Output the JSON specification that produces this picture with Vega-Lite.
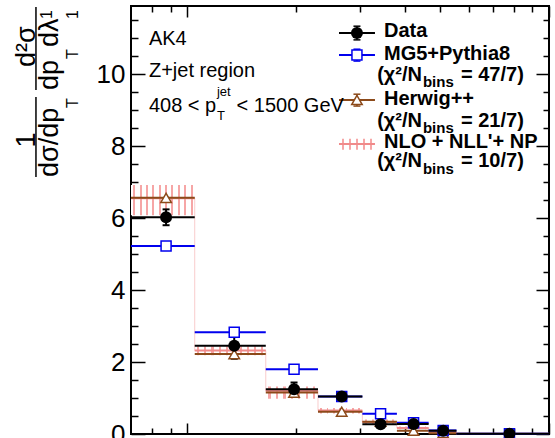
{
"$schema":"https://vega.github.io/schema/vega-lite/v6.json",
"width":418,"height":428,
"autosize":{"type":"none"},
"padding":{"left":131,"top":6,"right":6,"bottom":4},
"background":"white",
"config":{"view":{"stroke":"#000000","strokeWidth":2},"axis":{"grid":false,"domain":false,"labelFont":"Liberation Sans","tickColor":"#000000","labelColor":"#000000"},"text":{"font":"Liberation Sans"}},
"datasets":{
"bins":[
{"bin":1,"lo":0.07,"hi":0.105,"xc":0.0875,"Data":6.02,"dlo":5.8,"dhi":6.24,"MG5":5.22,"Herwig":6.56,"NLO":6.55,"nlo_lo":6.08,"nlo_hi":6.92},
{"bin":2,"lo":0.105,"hi":0.165,"xc":0.135,"Data":2.45,"dlo":2.09,"dhi":2.81,"MG5":2.83,"Herwig":2.22,"NLO":2.32,"nlo_lo":2.19,"nlo_hi":2.44},
{"bin":3,"lo":0.165,"hi":0.23,"xc":0.1975,"Data":1.24,"dlo":1.04,"dhi":1.43,"MG5":1.8,"Herwig":1.15,"NLO":1.2,"nlo_lo":0.98,"nlo_hi":1.32},
{"bin":4,"lo":0.23,"hi":0.305,"xc":0.2675,"Data":1.04,"dlo":0.94,"dhi":1.14,"MG5":1.04,"Herwig":0.62,"NLO":0.65,"nlo_lo":0.57,"nlo_hi":0.72},
{"bin":5,"lo":0.305,"hi":0.38,"xc":0.3425,"Data":0.27,"dlo":0.22,"dhi":0.32,"MG5":0.56,"Herwig":0.34,"NLO":0.33,"nlo_lo":0.26,"nlo_hi":0.4},
{"bin":6,"lo":0.38,"hi":0.465,"xc":0.4225,"Data":0.28,"dlo":0.23,"dhi":0.33,"MG5":0.31,"Herwig":0.09,"NLO":0.17,"nlo_lo":0.13,"nlo_hi":0.21},
{"bin":7,"lo":0.465,"hi":0.555,"xc":0.51,"Data":0.09,"dlo":0.06,"dhi":0.12,"MG5":0.1,"Herwig":0.02,"NLO":0.05,"nlo_lo":0.03,"nlo_hi":0.07},
{"bin":8,"lo":0.555,"hi":1.0,"xc":0.7775,"Data":0.005,"dlo":0.0,"dhi":0.01,"MG5":0.01,"Herwig":0.003,"NLO":0.004,"nlo_lo":0.0,"nlo_hi":0.008}
],
"legsym":[
{"s":"Data","x1":0.2629,"x2":0.3305,"xm":0.2947,"y":11.139,"ylo":10.949,"yhi":11.329},
{"s":"MG5","x1":0.2629,"x2":0.3305,"xm":0.2947,"y":10.528,"ylo":10.36,"yhi":10.69},
{"s":"Herwig","x1":0.2629,"x2":0.3305,"xm":0.2947,"y":9.278,"ylo":9.11,"yhi":9.44},
{"s":"NLO","x1":0.2629,"x2":0.3305,"xm":0.2947,"y":8.056,"ylo":7.9,"yhi":8.2}
],
"legtxt":[
{"x":0.35,"y":11.028,"t":"Data","k":"main"},
{"x":0.35,"y":10.389,"t":"MG5+Pythia8","k":"main"},
{"x":0.4457,"y":9.806,"t":"(χ²/N","k":"pre"},
{"x":0.4485,"y":9.639,"t":"bins","k":"sub"},
{"x":0.5712,"y":9.806,"t":"= 47/7)","k":"main"},
{"x":0.35,"y":9.139,"t":"Herwig++","k":"main"},
{"x":0.4457,"y":8.528,"t":"(χ²/N","k":"pre"},
{"x":0.4485,"y":8.361,"t":"bins","k":"sub"},
{"x":0.5712,"y":8.528,"t":"= 21/7)","k":"main"},
{"x":0.35,"y":7.944,"t":"NLO + NLL'+ NP","k":"main"},
{"x":0.4457,"y":7.417,"t":"(χ²/N","k":"pre"},
{"x":0.4485,"y":7.222,"t":"bins","k":"sub"},
{"x":0.5712,"y":7.417,"t":"= 10/7)","k":"main"}
],
"ann":[
{"x":0.07845,"y":10.81,"t":"AK4","k":"main"},
{"x":0.07845,"y":9.92,"t":"Z+jet region","k":"main"},
{"x":0.07845,"y":8.94,"t":"408 < p","k":"main"},
{"x":0.1209,"y":9.389,"t":"jet","k":"small"},
{"x":0.1209,"y":8.72,"t":"T","k":"small"},
{"x":0.137,"y":8.94,"t":"< 1500 GeV","k":"main"}
],
"ytitle":[
{"x":0.03799,"y":7.958,"t":"1","k":"big"},
{"x":0.04397,"y":7.139,"t":"dσ/dp","k":"big"},
{"x":0.04995,"y":9.056,"t":"T","k":"small"},
{"x":0.03799,"y":10.194,"t":"d²σ","k":"big"},
{"x":0.04397,"y":9.556,"t":"dp","k":"big"},
{"x":0.04995,"y":10.417,"t":"T","k":"small"},
{"x":0.04397,"y":10.75,"t":"dλ","k":"big"},
{"x":0.04233,"y":11.528,"t":"1","k":"small"},
{"x":0.04995,"y":11.528,"t":"1","k":"small"}
],
"bars":[
{"x":0.03824,"y1":7.139,"y2":9.361},
{"x":0.03824,"y1":9.556,"y2":11.861}
]
},
"data":{"name":"bins"},
"resolve":{"axis":{"x":"independent","y":"independent"}},
"layer":[
{"transform":[{"filter":"datum.bin <= 2 || datum.bin == 8"}],
 "mark":{"type":"rect","fill":{"gradient":"linear","x1":0,"x2":1,"y1":0,"y2":0,"stops":[
 {"offset":0,"color":"#ffffff"},
 {"offset":0.035,"color":"#ffffff"},{"offset":0.035,"color":"#f6a6a6"},{"offset":0.065,"color":"#f6a6a6"},{"offset":0.065,"color":"#ffffff"},
 {"offset":0.135,"color":"#ffffff"},{"offset":0.135,"color":"#f6a6a6"},{"offset":0.165,"color":"#f6a6a6"},{"offset":0.165,"color":"#ffffff"},
 {"offset":0.235,"color":"#ffffff"},{"offset":0.235,"color":"#f6a6a6"},{"offset":0.265,"color":"#f6a6a6"},{"offset":0.265,"color":"#ffffff"},
 {"offset":0.335,"color":"#ffffff"},{"offset":0.335,"color":"#f6a6a6"},{"offset":0.365,"color":"#f6a6a6"},{"offset":0.365,"color":"#ffffff"},
 {"offset":0.435,"color":"#ffffff"},{"offset":0.435,"color":"#f6a6a6"},{"offset":0.465,"color":"#f6a6a6"},{"offset":0.465,"color":"#ffffff"},
 {"offset":0.535,"color":"#ffffff"},{"offset":0.535,"color":"#f6a6a6"},{"offset":0.565,"color":"#f6a6a6"},{"offset":0.565,"color":"#ffffff"},
 {"offset":0.635,"color":"#ffffff"},{"offset":0.635,"color":"#f6a6a6"},{"offset":0.665,"color":"#f6a6a6"},{"offset":0.665,"color":"#ffffff"},
 {"offset":0.735,"color":"#ffffff"},{"offset":0.735,"color":"#f6a6a6"},{"offset":0.765,"color":"#f6a6a6"},{"offset":0.765,"color":"#ffffff"},
 {"offset":0.835,"color":"#ffffff"},{"offset":0.835,"color":"#f6a6a6"},{"offset":0.865,"color":"#f6a6a6"},{"offset":0.865,"color":"#ffffff"},
 {"offset":0.935,"color":"#ffffff"},{"offset":0.935,"color":"#f6a6a6"},{"offset":0.965,"color":"#f6a6a6"},{"offset":0.965,"color":"#ffffff"},
 {"offset":1,"color":"#ffffff"}]}},
 "encoding":{"x":{"field":"lo","type":"quantitative","scale":{"type":"log","domain":[0.07,1],"nice":false},"axis":null},"x2":{"field":"hi"},
  "y":{"field":"nlo_lo","type":"quantitative","scale":{"domain":[0,11.89],"nice":false,"zero":false},"axis":null},"y2":{"field":"nlo_hi"}}},
{"transform":[{"filter":"datum.bin == 3 || datum.bin == 4"}],
 "mark":{"type":"rect","fill":{"gradient":"linear","x1":0,"x2":1,"y1":0,"y2":0,"stops":[
 {"offset":0,"color":"#ffffff"},
 {"offset":0.05,"color":"#ffffff"},{"offset":0.05,"color":"#f6a6a6"},{"offset":0.093,"color":"#f6a6a6"},{"offset":0.093,"color":"#ffffff"},
 {"offset":0.193,"color":"#ffffff"},{"offset":0.193,"color":"#f6a6a6"},{"offset":0.236,"color":"#f6a6a6"},{"offset":0.236,"color":"#ffffff"},
 {"offset":0.336,"color":"#ffffff"},{"offset":0.336,"color":"#f6a6a6"},{"offset":0.379,"color":"#f6a6a6"},{"offset":0.379,"color":"#ffffff"},
 {"offset":0.479,"color":"#ffffff"},{"offset":0.479,"color":"#f6a6a6"},{"offset":0.521,"color":"#f6a6a6"},{"offset":0.521,"color":"#ffffff"},
 {"offset":0.621,"color":"#ffffff"},{"offset":0.621,"color":"#f6a6a6"},{"offset":0.664,"color":"#f6a6a6"},{"offset":0.664,"color":"#ffffff"},
 {"offset":0.764,"color":"#ffffff"},{"offset":0.764,"color":"#f6a6a6"},{"offset":0.807,"color":"#f6a6a6"},{"offset":0.807,"color":"#ffffff"},
 {"offset":0.907,"color":"#ffffff"},{"offset":0.907,"color":"#f6a6a6"},{"offset":0.95,"color":"#f6a6a6"},{"offset":0.95,"color":"#ffffff"},
 {"offset":1,"color":"#ffffff"}]}},
 "encoding":{"x":{"field":"lo","type":"quantitative","scale":{"type":"log","domain":[0.07,1],"nice":false},"axis":null},"x2":{"field":"hi"},
  "y":{"field":"nlo_lo","type":"quantitative","scale":{"domain":[0,11.89],"nice":false,"zero":false},"axis":null},"y2":{"field":"nlo_hi"}}},
{"transform":[{"filter":"datum.bin >= 5 && datum.bin <= 7"}],
 "mark":{"type":"rect","fill":{"gradient":"linear","x1":0,"x2":1,"y1":0,"y2":0,"stops":[
 {"offset":0,"color":"#ffffff"},
 {"offset":0.07,"color":"#ffffff"},{"offset":0.07,"color":"#f6a6a6"},{"offset":0.13,"color":"#f6a6a6"},{"offset":0.13,"color":"#ffffff"},
 {"offset":0.27,"color":"#ffffff"},{"offset":0.27,"color":"#f6a6a6"},{"offset":0.33,"color":"#f6a6a6"},{"offset":0.33,"color":"#ffffff"},
 {"offset":0.47,"color":"#ffffff"},{"offset":0.47,"color":"#f6a6a6"},{"offset":0.53,"color":"#f6a6a6"},{"offset":0.53,"color":"#ffffff"},
 {"offset":0.67,"color":"#ffffff"},{"offset":0.67,"color":"#f6a6a6"},{"offset":0.73,"color":"#f6a6a6"},{"offset":0.73,"color":"#ffffff"},
 {"offset":0.87,"color":"#ffffff"},{"offset":0.87,"color":"#f6a6a6"},{"offset":0.93,"color":"#f6a6a6"},{"offset":0.93,"color":"#ffffff"},
 {"offset":1,"color":"#ffffff"}]}},
 "encoding":{"x":{"field":"lo","type":"quantitative","scale":{"type":"log","domain":[0.07,1],"nice":false},"axis":null},"x2":{"field":"hi"},
  "y":{"field":"nlo_lo","type":"quantitative","scale":{"domain":[0,11.89],"nice":false,"zero":false},"axis":null},"y2":{"field":"nlo_hi"}}},
{"mark":{"type":"line","interpolate":"step-after","stroke":"#f9cccc","strokeWidth":1},
 "encoding":{"x":{"field":"lo","type":"quantitative","scale":{"type":"log","domain":[0.07,1],"nice":false},"axis":null},
  "y":{"field":"NLO","type":"quantitative","scale":{"domain":[0,11.89],"nice":false,"zero":false},"axis":null}}},
{"transform":[{"fold":["NLO","Herwig","MG5","Data"],"as":["s","v"]}],
 "mark":{"type":"rule","strokeWidth":2},
 "encoding":{"x":{"field":"lo","type":"quantitative","scale":{"type":"log","domain":[0.07,1],"nice":false},"axis":null},"x2":{"field":"hi"},
  "y":{"field":"v","type":"quantitative","scale":{"domain":[0,11.89],"nice":false,"zero":false},"axis":null},
  "stroke":{"field":"s","type":"nominal","scale":{"domain":["Data","MG5","Herwig","NLO"],"range":["#000000","#0000ee","#8c4a1a","#f08a8a"]},"legend":null}}},
{"mark":{"type":"rule","stroke":"#000000","strokeWidth":2},
 "encoding":{"x":{"field":"xc","type":"quantitative","scale":{"type":"log","domain":[0.07,1],"nice":false},"axis":null},
  "y":{"field":"dlo","type":"quantitative","scale":{"domain":[0,11.89],"nice":false,"zero":false},"axis":null},"y2":{"field":"dhi"}}},
{"transform":[{"fold":["dlo","dhi"],"as":["c","cv"]}],
 "mark":{"type":"tick","orient":"horizontal","size":7,"thickness":2,"color":"#000000","opacity":1},
 "encoding":{"x":{"field":"xc","type":"quantitative","scale":{"type":"log","domain":[0.07,1],"nice":false},"axis":null},
  "y":{"field":"cv","type":"quantitative","scale":{"domain":[0,11.89],"nice":false,"zero":false},"axis":null}}},
{"mark":{"type":"point","shape":"triangle-up","filled":true,"fill":"#ffffff","stroke":"#8c4a1a","strokeWidth":1.5,"size":110,"opacity":1},
 "encoding":{"x":{"field":"xc","type":"quantitative","scale":{"type":"log","domain":[0.07,1],"nice":false},"axis":null},
  "y":{"field":"Herwig","type":"quantitative","scale":{"domain":[0,11.89],"nice":false,"zero":false},"axis":null}}},
{"mark":{"type":"point","shape":"square","filled":true,"fill":"#ffffff","stroke":"#0000ee","strokeWidth":1.5,"size":100,"opacity":1},
 "encoding":{"x":{"field":"xc","type":"quantitative","scale":{"type":"log","domain":[0.07,1],"nice":false},"axis":null},
  "y":{"field":"MG5","type":"quantitative","scale":{"domain":[0,11.89],"nice":false,"zero":false},"axis":null}}},
{"mark":{"type":"point","shape":"circle","filled":true,"color":"#000000","size":144,"opacity":1},
 "encoding":{"x":{"field":"xc","type":"quantitative","scale":{"type":"log","domain":[0.07,1],"nice":false},"axis":null},
  "y":{"field":"Data","type":"quantitative","scale":{"domain":[0,11.89],"nice":false,"zero":false},"axis":null}}},
{"data":{"name":"legsym"},"transform":[{"filter":"datum.s == 'NLO'"}],
 "mark":{"type":"rect","fill":{"gradient":"linear","x1":0,"x2":1,"y1":0,"y2":0,"stops":[
 {"offset":0,"color":"#ffffff"},
 {"offset":0.07,"color":"#ffffff"},{"offset":0.07,"color":"#f6a6a6"},{"offset":0.13,"color":"#f6a6a6"},{"offset":0.13,"color":"#ffffff"},
 {"offset":0.27,"color":"#ffffff"},{"offset":0.27,"color":"#f6a6a6"},{"offset":0.33,"color":"#f6a6a6"},{"offset":0.33,"color":"#ffffff"},
 {"offset":0.47,"color":"#ffffff"},{"offset":0.47,"color":"#f6a6a6"},{"offset":0.53,"color":"#f6a6a6"},{"offset":0.53,"color":"#ffffff"},
 {"offset":0.67,"color":"#ffffff"},{"offset":0.67,"color":"#f6a6a6"},{"offset":0.73,"color":"#f6a6a6"},{"offset":0.73,"color":"#ffffff"},
 {"offset":0.87,"color":"#ffffff"},{"offset":0.87,"color":"#f6a6a6"},{"offset":0.93,"color":"#f6a6a6"},{"offset":0.93,"color":"#ffffff"},
 {"offset":1,"color":"#ffffff"}]}},
 "encoding":{"x":{"field":"x1","type":"quantitative","scale":{"type":"log","domain":[0.07,1],"nice":false},"axis":null},"x2":{"field":"x2"},
  "y":{"field":"ylo","type":"quantitative","scale":{"domain":[0,11.89],"nice":false,"zero":false},"axis":null},"y2":{"field":"yhi"}}},
{"data":{"name":"legsym"},
 "mark":{"type":"rule","strokeWidth":2},
 "encoding":{"x":{"field":"x1","type":"quantitative","scale":{"type":"log","domain":[0.07,1],"nice":false},"axis":null},"x2":{"field":"x2"},
  "y":{"field":"y","type":"quantitative","scale":{"domain":[0,11.89],"nice":false,"zero":false},"axis":null},
  "stroke":{"field":"s","type":"nominal","scale":{"domain":["Data","MG5","Herwig","NLO"],"range":["#000000","#0000ee","#8c4a1a","#f08a8a"]},"legend":null}}},
{"data":{"name":"legsym"},"transform":[{"filter":"datum.s != 'NLO'"}],
 "mark":{"type":"rule","strokeWidth":1.5},
 "encoding":{"x":{"field":"xm","type":"quantitative","scale":{"type":"log","domain":[0.07,1],"nice":false},"axis":null},
  "y":{"field":"ylo","type":"quantitative","scale":{"domain":[0,11.89],"nice":false,"zero":false},"axis":null},"y2":{"field":"yhi"},
  "stroke":{"field":"s","type":"nominal","scale":{"domain":["Data","MG5","Herwig","NLO"],"range":["#000000","#0000ee","#8c4a1a","#f08a8a"]},"legend":null}}},
{"data":{"name":"legsym"},"transform":[{"filter":"datum.s != 'NLO'"},{"fold":["ylo","yhi"],"as":["c","cv"]}],
 "mark":{"type":"tick","orient":"horizontal","size":7,"thickness":1.5,"opacity":1},
 "encoding":{"x":{"field":"xm","type":"quantitative","scale":{"type":"log","domain":[0.07,1],"nice":false},"axis":null},
  "y":{"field":"cv","type":"quantitative","scale":{"domain":[0,11.89],"nice":false,"zero":false},"axis":null},
  "color":{"field":"s","type":"nominal","scale":{"domain":["Data","MG5","Herwig"],"range":["#000000","#0000ee","#8c4a1a"]},"legend":null}}},
{"data":{"name":"legsym"},"transform":[{"filter":"datum.s == 'Herwig'"}],
 "mark":{"type":"point","shape":"triangle-up","filled":true,"fill":"#ffffff","stroke":"#8c4a1a","strokeWidth":1.5,"size":110,"opacity":1},
 "encoding":{"x":{"field":"xm","type":"quantitative","scale":{"type":"log","domain":[0.07,1],"nice":false},"axis":null},
  "y":{"field":"y","type":"quantitative","scale":{"domain":[0,11.89],"nice":false,"zero":false},"axis":null}}},
{"data":{"name":"legsym"},"transform":[{"filter":"datum.s == 'MG5'"}],
 "mark":{"type":"point","shape":"square","filled":true,"fill":"#ffffff","stroke":"#0000ee","strokeWidth":1.5,"size":100,"opacity":1},
 "encoding":{"x":{"field":"xm","type":"quantitative","scale":{"type":"log","domain":[0.07,1],"nice":false},"axis":null},
  "y":{"field":"y","type":"quantitative","scale":{"domain":[0,11.89],"nice":false,"zero":false},"axis":null}}},
{"data":{"name":"legsym"},"transform":[{"filter":"datum.s == 'Data'"}],
 "mark":{"type":"point","shape":"circle","filled":true,"color":"#000000","size":144,"opacity":1},
 "encoding":{"x":{"field":"xm","type":"quantitative","scale":{"type":"log","domain":[0.07,1],"nice":false},"axis":null},
  "y":{"field":"y","type":"quantitative","scale":{"domain":[0,11.89],"nice":false,"zero":false},"axis":null}}},
{"data":{"name":"ann"},"transform":[{"filter":"datum.k == 'main'"}],
 "mark":{"type":"text","font":"Liberation Sans","fontSize":20,"align":"left","baseline":"alphabetic","color":"#000000"},
 "encoding":{"x":{"field":"x","type":"quantitative","scale":{"type":"log","domain":[0.07,1],"nice":false},"axis":null},
  "y":{"field":"y","type":"quantitative","scale":{"domain":[0,11.89],"nice":false,"zero":false},"axis":null},"text":{"field":"t","type":"nominal"}}},
{"data":{"name":"ann"},"transform":[{"filter":"datum.k == 'small'"}],
 "mark":{"type":"text","font":"Liberation Sans","fontSize":13,"align":"left","baseline":"alphabetic","color":"#000000"},
 "encoding":{"x":{"field":"x","type":"quantitative","scale":{"type":"log","domain":[0.07,1],"nice":false},"axis":null},
  "y":{"field":"y","type":"quantitative","scale":{"domain":[0,11.89],"nice":false,"zero":false},"axis":null},"text":{"field":"t","type":"nominal"}}},
{"data":{"name":"legtxt"},"transform":[{"filter":"datum.k == 'main'"}],
 "mark":{"type":"text","font":"Liberation Sans","fontSize":20,"fontWeight":"bold","align":"left","baseline":"alphabetic","color":"#000000"},
 "encoding":{"x":{"field":"x","type":"quantitative","scale":{"type":"log","domain":[0.07,1],"nice":false},"axis":null},
  "y":{"field":"y","type":"quantitative","scale":{"domain":[0,11.89],"nice":false,"zero":false},"axis":null},"text":{"field":"t","type":"nominal"}}},
{"data":{"name":"legtxt"},"transform":[{"filter":"datum.k == 'pre'"}],
 "mark":{"type":"text","font":"Liberation Sans","fontSize":20,"fontWeight":"bold","align":"right","baseline":"alphabetic","color":"#000000"},
 "encoding":{"x":{"field":"x","type":"quantitative","scale":{"type":"log","domain":[0.07,1],"nice":false},"axis":null},
  "y":{"field":"y","type":"quantitative","scale":{"domain":[0,11.89],"nice":false,"zero":false},"axis":null},"text":{"field":"t","type":"nominal"}}},
{"data":{"name":"legtxt"},"transform":[{"filter":"datum.k == 'sub'"}],
 "mark":{"type":"text","font":"Liberation Sans","fontSize":15,"fontWeight":"bold","align":"left","baseline":"alphabetic","color":"#000000"},
 "encoding":{"x":{"field":"x","type":"quantitative","scale":{"type":"log","domain":[0.07,1],"nice":false},"axis":null},
  "y":{"field":"y","type":"quantitative","scale":{"domain":[0,11.89],"nice":false,"zero":false},"axis":null},"text":{"field":"t","type":"nominal"}}},
{"data":{"name":"ytitle"},"transform":[{"filter":"datum.k == 'big'"}],
 "mark":{"type":"text","font":"Liberation Sans","fontSize":27,"angle":270,"align":"left","baseline":"alphabetic","color":"#000000"},
 "encoding":{"x":{"field":"x","type":"quantitative","scale":{"type":"log","domain":[0.07,1],"nice":false},"axis":null},
  "y":{"field":"y","type":"quantitative","scale":{"domain":[0,11.89],"nice":false,"zero":false},"axis":null},"text":{"field":"t","type":"nominal"}}},
{"data":{"name":"ytitle"},"transform":[{"filter":"datum.k == 'small'"}],
 "mark":{"type":"text","font":"Liberation Sans","fontSize":16,"angle":270,"align":"left","baseline":"alphabetic","color":"#000000"},
 "encoding":{"x":{"field":"x","type":"quantitative","scale":{"type":"log","domain":[0.07,1],"nice":false},"axis":null},
  "y":{"field":"y","type":"quantitative","scale":{"domain":[0,11.89],"nice":false,"zero":false},"axis":null},"text":{"field":"t","type":"nominal"}}},
{"data":{"name":"bars"},
 "mark":{"type":"rule","stroke":"#000000","strokeWidth":1.5},
 "encoding":{"x":{"field":"x","type":"quantitative","scale":{"type":"log","domain":[0.07,1],"nice":false},"axis":null},
  "y":{"field":"y1","type":"quantitative","scale":{"domain":[0,11.89],"nice":false,"zero":false},"axis":null},"y2":{"field":"y2"}}},
{"mark":{"type":"point","opacity":0},
 "encoding":{"x":{"field":"xc","type":"quantitative","scale":{"type":"log","domain":[0.07,1],"nice":false},"axis":null},
  "y":{"field":"Data","type":"quantitative","scale":{"domain":[0,11.89],"nice":false,"zero":false},
   "axis":{"orient":"left","values":[0,2,4,6,8,10],"ticks":false,"tickSize":0,"labelFontSize":26,"labelPadding":6,"labelOverlap":false,"title":null,"domain":false,"grid":false}}}},
{"mark":{"type":"point","opacity":0},
 "encoding":{"x":{"field":"xc","type":"quantitative","scale":{"type":"log","domain":[0.07,1],"nice":false},
   "axis":{"orient":"bottom","values":[0.1,1],"tickSize":-11,"tickWidth":1.5,"labels":false,"title":null,"domain":false,"grid":false}},
  "y":{"field":"Data","type":"quantitative","scale":{"domain":[0,11.89],"nice":false,"zero":false},
   "axis":{"orient":"left","values":[0,2,4,6,8,10],"tickSize":-14,"tickWidth":1.5,"labels":false,"title":null,"domain":false,"grid":false}}}},
{"mark":{"type":"point","opacity":0},
 "encoding":{"x":{"field":"xc","type":"quantitative","scale":{"type":"log","domain":[0.07,1],"nice":false},
   "axis":{"orient":"bottom","values":[0.08,0.09,0.2,0.3,0.4,0.5,0.6,0.7,0.8,0.9],"tickSize":-6,"tickWidth":1.5,"labels":false,"title":null,"domain":false,"grid":false}},
  "y":{"field":"Data","type":"quantitative","scale":{"domain":[0,11.89],"nice":false,"zero":false},
   "axis":{"orient":"left","values":[0.5,1,1.5,2.5,3,3.5,4.5,5,5.5,6.5,7,7.5,8.5,9,9.5,10.5,11,11.5],"tickSize":-7,"tickWidth":1.5,"labels":false,"title":null,"domain":false,"grid":false}}}},
{"mark":{"type":"point","opacity":0},
 "encoding":{"x":{"field":"xc","type":"quantitative","scale":{"type":"log","domain":[0.07,1],"nice":false},
   "axis":{"orient":"top","values":[0.1,1],"tickSize":-11,"tickWidth":1.5,"labels":false,"title":null,"domain":false,"grid":false}},
  "y":{"field":"Data","type":"quantitative","scale":{"domain":[0,11.89],"nice":false,"zero":false},
   "axis":{"orient":"right","values":[0,2,4,6,8,10],"tickSize":-13,"tickWidth":1.5,"labels":false,"title":null,"domain":false,"grid":false}}}},
{"mark":{"type":"point","opacity":0},
 "encoding":{"x":{"field":"xc","type":"quantitative","scale":{"type":"log","domain":[0.07,1],"nice":false},
   "axis":{"orient":"top","values":[0.08,0.09,0.2,0.3,0.4,0.5,0.6,0.7,0.8,0.9],"tickSize":-6,"tickWidth":1.5,"labels":false,"title":null,"domain":false,"grid":false}},
  "y":{"field":"Data","type":"quantitative","scale":{"domain":[0,11.89],"nice":false,"zero":false},
   "axis":{"orient":"right","values":[0.5,1,1.5,2.5,3,3.5,4.5,5,5.5,6.5,7,7.5,8.5,9,9.5,10.5,11,11.5],"tickSize":-6,"tickWidth":1.5,"labels":false,"title":null,"domain":false,"grid":false}}}}
]
}
